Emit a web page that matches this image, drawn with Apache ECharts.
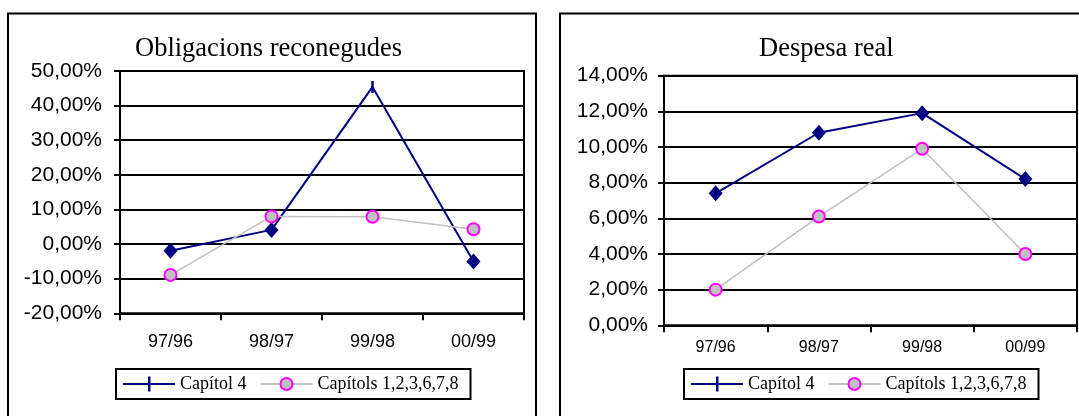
<!DOCTYPE html>
<html>
<head>
<meta charset="utf-8">
<script src="https://cdn.jsdelivr.net/npm/echarts@6/dist/echarts.min.js"></script>
<style>
  html, body { margin: 0; padding: 0; background: #fff; }
  #main { width: 1079px; height: 416px; }
</style>
</head>
<body>
<div id="main"></div>
<script>
// categories and values (percent)
var periods = ['97/96', '98/97', '99/98', '00/99'];
var obligCap4 = [-1.9, 4.1, 45.4, -5.0];
var obligCaps = [-8.9, 8.0, 7.9, 4.3];
var despCap4 = [7.4, 10.8, 11.9, 8.2];
var despCaps = [2.0, 6.1, 9.9, 4.0];
var obligTicks = [-20, -10, 0, 10, 20, 30, 40, 50];
var despTicks = [0, 2, 4, 6, 8, 10, 12, 14];

var NAME_A = 'Capítol 4';
var NAME_B = 'Capítols 1,2,3,6,7,8';
var SERIF = 'Liberation Serif';
var SANS = 'Liberation Sans';

// legend icon: line with a vertical bar in the middle
var crossIcon = 'path://M0,6.5 L25,6.5 L25,0 L27.5,0 L27.5,6.5 L52,6.5 L52,8.5 L27.5,8.5 L27.5,15 L25,15 L25,8.5 L0,8.5 Z';

function pct(v) {
  return v.toFixed(2).replace('.', ',') + '%';
}

function yAxis(gi, ticks, margin, pad) {
  return {
    gridIndex: gi,
    type: 'value',
    min: ticks[0],
    max: ticks[ticks.length - 1],
    interval: ticks[1] - ticks[0],
    axisLine: { show: true, lineStyle: { color: '#000', width: 2 } },
    axisTick: { show: true, length: 6, lineStyle: { color: '#000', width: 2 } },
    splitLine: { show: true, lineStyle: { color: '#000', width: 2 } },
    axisLabel: {
      formatter: pct, color: '#000', fontFamily: SANS, fontSize: 21,
      margin: margin, padding: pad
    }
  };
}

function xAxis(gi, size, margin) {
  return {
    gridIndex: gi,
    type: 'category',
    data: periods,
    boundaryGap: true,
    axisLine: { show: true, onZero: false, lineStyle: { color: '#000', width: 2 } },
    axisTick: { show: true, length: 7, alignWithLabel: false, lineStyle: { color: '#000', width: 2 } },
    splitLine: { show: false },
    axisLabel: { color: '#000', fontFamily: SANS, fontSize: size, margin: margin, interval: 0 }
  };
}

function blueLine(gi, data) {
  return {
    name: NAME_A, type: 'line', xAxisIndex: gi, yAxisIndex: gi,
    data: data, symbol: 'diamond', symbolSize: [14, 16], showAllSymbol: true,
    itemStyle: { color: '#000080' },
    lineStyle: { color: '#000080', width: 2 },
    emphasis: { disabled: true }
  };
}

function greyLine(gi, data) {
  return {
    name: NAME_B, type: 'line', xAxisIndex: gi, yAxisIndex: gi,
    data: data, symbol: 'circle', symbolSize: 12, showAllSymbol: true,
    itemStyle: { color: '#c0c0c0', borderColor: '#ff00ff', borderWidth: 2 },
    lineStyle: { color: '#c0c0c0', width: 1.5 },
    emphasis: { disabled: true }
  };
}

function legend(left) {
  return {
    left: left, top: 369,
    orient: 'horizontal',
    padding: [6, 12, 6, 7],
    borderColor: '#000', borderWidth: 2,
    itemWidth: 52, itemHeight: 15, itemGap: 13,
    selectedMode: false,
    data: [{ name: NAME_A, icon: crossIcon }, { name: NAME_B }],
    textStyle: { color: '#000', fontFamily: SERIF, fontSize: 18, lineHeight: 18 }
  };
}

function title(text, left) {
  return {
    text: text, left: left, top: 36, padding: 0,
    textStyle: { color: '#000', fontFamily: SERIF, fontSize: 26.5, fontWeight: 'normal' }
  };
}

// the 99/98 point of the first chart is drawn as a bar marker
var obligCap4Data = obligCap4.map(function (v, i) {
  return i === 2 ? { value: v, symbol: 'rect', symbolSize: [2.5, 12] } : v;
});

var chart = echarts.init(document.getElementById('main'), null, { renderer: 'canvas' });

var option = {
  animation: false,
  backgroundColor: '#fff',
  title: [title('Obligacions reconegudes', 135), title('Despesa real', 759)],
  legend: [legend(116), legend(684)],
  grid: [
    { left: 120, top: 71, width: 404, height: 242.3, show: true, borderColor: '#000', borderWidth: 2, containLabel: false, outerBoundsMode: 'none' },
    { left: 664, top: 75.7, width: 413, height: 249.6, show: true, borderColor: '#000', borderWidth: 2, containLabel: false, outerBoundsMode: 'none' }
  ],
  xAxis: [xAxis(0, 18, 20), xAxis(1, 16, 14)],
  yAxis: [yAxis(0, obligTicks, 18, [8, 0, 0, 0]), yAxis(1, despTicks, 16, [6, 0, 0, 0])],
  graphic: [
    { type: 'rect', silent: true, shape: { x: 8, y: 13.5, width: 528, height: 430 }, style: { fill: 'none', stroke: '#000', lineWidth: 2 } },
    { type: 'rect', silent: true, shape: { x: 560, y: 13.5, width: 540, height: 430 }, style: { fill: 'none', stroke: '#000', lineWidth: 2 } }
  ],
  series: [
    blueLine(0, obligCap4Data),
    greyLine(0, obligCaps),
    blueLine(1, despCap4),
    greyLine(1, despCaps)
  ]
};

chart.setOption(option);
</script>
</body>
</html>
